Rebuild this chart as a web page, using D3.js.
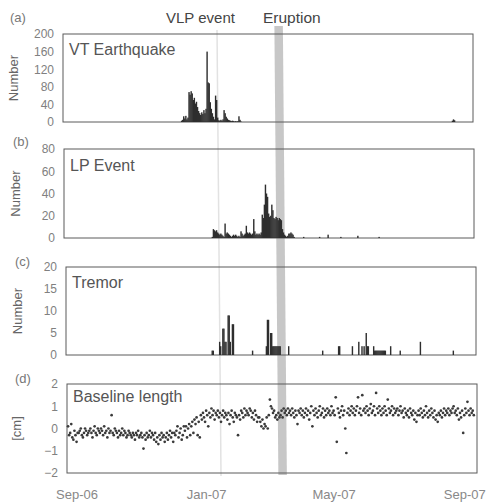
<!DOCTYPE html>
<html><head><meta charset="utf-8">
<script src="https://cdn.jsdelivr.net/npm/d3@7"></script>
<style>
html,body{margin:0;padding:0;background:#fff;}
svg{display:block;font-family:"Liberation Sans",Arial,sans-serif;}
</style></head>
<body><svg id="c" width="493" height="502"></svg>
<script>
// ---------- DATA ----------
const timeDomain = ["2006-08-23", "2007-09-13"];
const xTickDates = ["2006-09-01", "2007-01-01", "2007-05-01", "2007-09-01"];
const xTickLabels = ["Sep-06", "Jan-07", "May-07", "Sep-07"];
const vlpDate = "2007-01-15";
const eruptionStart = "2007-03-10";
const eruptionEnd = "2007-03-18";

const panelLetters = ["(a)", "(b)", "(c)", "(d)"];
const panelTitles = ["VT Earthquake", "LP Event", "Tremor", "Baseline length"];
const panelYLabels = ["Number", "Number", "Number", "[cm]"];
const yTicksA = [0, 40, 80, 120, 160, 200];
const yTicksB = [0, 20, 40, 60, 80];
const yTicksC = [0, 5, 10, 15, 20];
const yTicksD = [-2, -1, 0, 1, 2];

// (a) VT earthquakes, daily counts from vtStart
const vtStart = "2006-12-12";
const vtCounts = [3,5,13,8,14,6,10,68,62,70, 65,50,55,42,46,34,25,20,16,22,
  18,27,20,30,160,90,88,45,30,20, 12,6,60,50,10,4,3,5,3,6,
  27,20,12,8,5,4,3,2,3,2, 1,2,1,2,13,5,1];
const vtLateDates = ["2007-08-24", "2007-08-25", "2007-08-26"];
const vtLateCounts = [3, 6, 4];

// (b) LP events, daily counts from lpStart
const lpStart = "2007-01-09";
const lpCounts = [1,8,7,6,7,5,4,3,4,3, 2,1,13,4,5,4,3,2,1,2,
  3,2,3,2,1,2,1,6,4,2, 3,4,11,5,4,5,4,3,4,17,
  6,3,4,3,4,3,5,21,18,30, 48,40,37,22,19,20,30,25,18,17,
  19,18,16,18,17,16,8,5,3,2, 1,2,4,4,5,4,3,1];
const lpLateDates = ["2007-04-05", "2007-04-20", "2007-04-28", "2007-05-10", "2007-05-26", "2007-06-15"];
const lpLateCounts = [1, 1, 3, 1, 2, 1];

// (c) Tremor, dated counts
const tremorDates = ["2007-01-07","2007-01-08","2007-01-14","2007-01-15","2007-01-17","2007-01-18",
  "2007-01-19","2007-01-20","2007-01-22","2007-01-23","2007-01-24","2007-01-26","2007-01-27",
  "2007-02-14","2007-02-27","2007-02-28","2007-03-01","2007-03-03","2007-03-04","2007-03-05",
  "2007-03-06","2007-03-07","2007-03-08","2007-03-09","2007-03-10","2007-03-11","2007-03-12",
  "2007-03-20","2007-04-21","2007-05-06","2007-05-07","2007-05-19","2007-05-25","2007-05-28",
  "2007-05-30","2007-06-01","2007-06-02","2007-06-03","2007-06-08","2007-06-09","2007-06-10",
  "2007-06-11","2007-06-12","2007-06-13","2007-06-14","2007-06-15","2007-06-16","2007-06-17",
  "2007-06-18","2007-06-19","2007-06-24","2007-07-03","2007-07-22","2007-08-22"];
const tremorCounts = [1,1,3,2,6,6, 3,3,9,9,3,7,7, 1,2,8,8,5,5,2, 2,2,2,2,2,2,2,
  2,1,2,2,2,3,2, 2,5,2,2,2,1,1, 1,1,1,1,1,1,1, 1,1,2,1,3,1];

// (d) Baseline length [cm], daily from baseStart
const baseStart = "2006-08-24";
const baseValues = [
  0.1,-0.3,-0.2,0.2,-0.4,-0.5,-0.1,-0.3,-0.6,-0.2,
  -0.2,-0.1,0.0,-0.3,-0.4,-0.2,0.0,-0.1,-0.3,-0.2,
  -0.1,0.0,-0.2,-0.4,-0.1,0.1,-0.2,-0.3,0.0,-0.1,
  -0.2,0.0,-0.1,-0.3,0.1,-0.2,-0.1,-0.4,0.0,-0.2,
  -0.1,0.6,-0.2,-0.3,0.0,-0.1,-0.2,-0.4,-0.1,-0.3,
  -0.2,0.0,-0.3,-0.1,-0.2,-0.4,-0.3,-0.1,-0.2,-0.3,
  -0.4,-0.2,-0.3,-0.5,-0.2,-0.3,-0.1,-0.4,-0.3,-0.2,
  -0.4,-0.9,-0.3,-0.5,-0.2,-0.4,-0.3,-0.1,-0.4,-0.2,
  -0.3,-0.5,-0.2,-0.6,-0.4,-0.7,-0.3,-0.5,-0.2,-0.4,
  -0.3,-0.6,-0.4,-0.2,-0.5,-0.3,-0.1,-0.4,-0.2,-0.6,
  -0.2,-0.3,-0.1,0.1,-0.4,-0.2,0.0,-0.5,-0.3,0.1,
  -0.1,0.1,-0.4,0.0,0.2,-0.3,0.1,0.3,-0.2,0.4,
  0.2,0.5,-0.3,0.3,-0.4,0.6,0.4,0.7,0.5,0.3,
  0.8,0.6,0.1,0.7,0.5,0.9,0.6,0.8,0.4,0.7,
  0.6,0.8,0.5,0.7,0.3,0.6,0.8,0.5,0.7,0.6,
  0.4,0.7,0.2,0.6,0.8,0.5,0.3,0.7,0.6,0.5,
  -0.3,0.6,0.4,0.8,0.7,0.5,0.9,0.6,0.8,0.7,
  0.6,0.9,0.8,0.5,0.7,0.4,0.8,0.6,0.3,0.5,
  0.5,0.3,0.1,0.4,0.0,0.2,0.1,0.5,0.0,0.6,
  1.3,1.0,0.9,0.7,0.8,0.5,0.6,0.4,0.7,0.5,
  0.6,0.8,0.5,0.9,0.7,0.8,0.6,0.9,0.7,0.8,
  0.6,0.9,0.7,0.5,0.8,0.6,0.2,0.8,0.7,0.9,
  0.6,0.8,0.5,0.7,0.9,0.6,0.8,0.4,0.7,1.0,
  0.1,0.8,0.6,0.9,0.7,0.5,0.8,1.0,0.6,0.7,
  0.9,0.5,0.8,0.6,0.9,0.7,0.8,0.6,1.0,0.7,
  0.8,0.6,1.4,-0.6,0.9,0.7,0.5,0.8,1.0,0.6,
  0.8,0.0,-1.1,0.7,0.9,0.6,0.8,1.0,0.7,0.9,
  0.6,0.8,1.0,1.4,0.7,0.9,0.6,1.5,0.8,0.9,
  0.7,1.0,0.8,0.6,0.9,1.1,0.7,0.8,1.0,0.6,
  1.6,0.9,0.7,1.0,0.8,0.6,0.9,0.7,1.0,0.8,
  0.6,1.3,0.9,0.7,0.8,1.0,0.6,0.9,0.7,0.8,
  0.9,0.6,0.8,1.0,0.7,0.8,0.5,0.9,0.7,0.6,
  0.8,0.5,0.9,0.7,0.6,0.8,0.4,0.7,0.3,0.6,
  0.8,0.6,0.9,0.7,0.5,0.8,0.6,1.0,0.7,0.5,
  0.8,0.6,0.9,0.7,0.5,0.8,0.4,0.6,0.3,0.7,
  0.6,0.8,0.5,0.7,0.9,0.6,0.8,0.7,0.9,0.6,
  0.8,0.7,0.9,1.0,0.7,0.8,0.6,0.9,0.4,0.7,
  0.5,0.8,-0.2,0.6,0.9,0.7,1.2,0.8,0.6,0.9,
  0.7,0.8,0.6];

// ---------- DRAW ----------
const parse = d3.utcParse("%Y-%m-%d");
const svg = d3.select("#c");
const DAY = 864e5;

const layout = [
  {left: 63, top: 34, bottom: 122, titleDy: 21, letterX: 10, letterY: 22, ylabX: 18},
  {left: 64, top: 149, bottom: 238, titleDy: 22, letterX: 13, letterY: 146, ylabX: 20},
  {left: 66, top: 267, bottom: 355, titleDy: 21, letterX: 15, letterY: 266, ylabX: 22},
  {left: 67, top: 384, bottom: 473, titleDy: 18, letterX: 15, letterY: 383, ylabX: 21}
];
const W = 410;
const yDomains = [[0, 200], [0, 80], [0, 20], [-2, 2]];
const yTickSets = [yTicksA, yTicksB, yTicksC, yTicksD];

const xs = layout.map(L => d3.scaleUtc().domain(timeDomain.map(parse)).range([L.left, L.left + W]));
const ys = layout.map((L, i) => d3.scaleLinear().domain(yDomains[i]).range([L.bottom, L.top]));

// eruption band (skewed like the scan), VLP line
const xa = xs[0], xd = xs[3];
const e0 = parse(eruptionStart), e1 = parse(eruptionEnd), v = parse(vlpDate);
svg.append("polygon")
  .attr("points", [[xa(e0), 26], [xa(e1), 26], [xd(e1), 475], [xd(e0), 475]].map(p => p.join(",")).join(" "))
  .attr("fill", "#bdbdbd").attr("opacity", 0.85);
svg.append("line")
  .attr("x1", xa(v)).attr("y1", 30).attr("x2", xd(v)).attr("y2", 476)
  .attr("stroke", "#e2e2e2").attr("stroke-width", 1.5);

// title
svg.append("text").attr("x", 166).attr("y", 23).attr("font-size", 15).attr("fill", "#444").text("VLP event");
svg.append("text").attr("x", 263).attr("y", 23).attr("font-size", 15.5).attr("fill", "#444").text("Eruption");

function series(startStr, counts) {
  const s = parse(startStr);
  return counts.map((c, i) => ({date: new Date(s.getTime() + i * DAY), value: c}));
}
function dated(dates, counts) {
  return dates.map((d, i) => ({date: parse(d), value: counts[i]}));
}
const barData = [
  series(vtStart, vtCounts).concat(dated(vtLateDates, vtLateCounts)),
  series(lpStart, lpCounts).concat(dated(lpLateDates, lpLateCounts)),
  dated(tremorDates, tremorCounts)
];

layout.forEach((L, i) => {
  const x = xs[i], y = ys[i];
  const g = svg.append("g");
  // box
  g.append("rect").attr("x", L.left).attr("y", L.top).attr("width", W).attr("height", L.bottom - L.top)
    .attr("fill", "none").attr("stroke", "#5a5a5a").attr("stroke-width", 1);
  // letters
  svg.append("text").attr("x", L.letterX).attr("y", L.letterY).attr("font-size", 13).attr("fill", "#777").text(panelLetters[i]);
  // title inside
  g.append("text").attr("x", L.left + 6).attr("y", L.top + L.titleDy).attr("font-size", 16).attr("fill", "#555").text(panelTitles[i]);
  // y ticks
  const ax = d3.axisLeft(y).tickValues(yTickSets[i]).tickSize(0).tickPadding(9).tickFormat(d3.format("d"));
  const axg = g.append("g").attr("transform", `translate(${L.left},0)`).call(ax);
  axg.select(".domain").remove();
  axg.selectAll("text").attr("font-size", 12).attr("fill", "#808080").attr("font-family", "Liberation Sans, Arial, sans-serif");
  // y label
  g.append("text").attr("transform", `translate(${L.ylabX},${(L.top + L.bottom) / 2}) rotate(-90)`)
    .attr("text-anchor", "middle").attr("font-size", 13).attr("fill", "#666").text(panelYLabels[i]);

  if (i < 3) {
    const d0 = x.domain()[0];
    const dw = x(new Date(d0.getTime() + DAY)) - x(d0);
    g.selectAll("rect.bar").data(barData[i]).join("rect").attr("class", "bar")
      .attr("x", d => x(d.date)).attr("width", dw + 0.35)
      .attr("y", d => y(d.value)).attr("height", d => y(0) - y(d.value))
      .attr("fill", "#2e2e2e");
  } else {
    const s = parse(baseStart);
    const pts = baseValues.map((val, k) => ({date: new Date(s.getTime() + k * DAY), value: val}));
    g.selectAll("circle").data(pts).join("circle")
      .attr("cx", d => x(d.date)).attr("cy", d => y(d.value)).attr("r", 1.35).attr("fill", "#3a3a3a");
    // x axis labels
    const xa2 = d3.axisBottom(x).tickValues(xTickDates.map(parse)).tickSize(0).tickPadding(0)
      .tickFormat((d, k) => xTickLabels[k]);
    const xg = g.append("g").attr("transform", `translate(0,${L.bottom + 17})`).call(xa2);
    xg.select(".domain").remove();
    xg.selectAll("text").attr("font-size", 13).attr("fill", "#888").attr("font-family", "Liberation Sans, Arial, sans-serif");
  }
});
</script></body></html>
